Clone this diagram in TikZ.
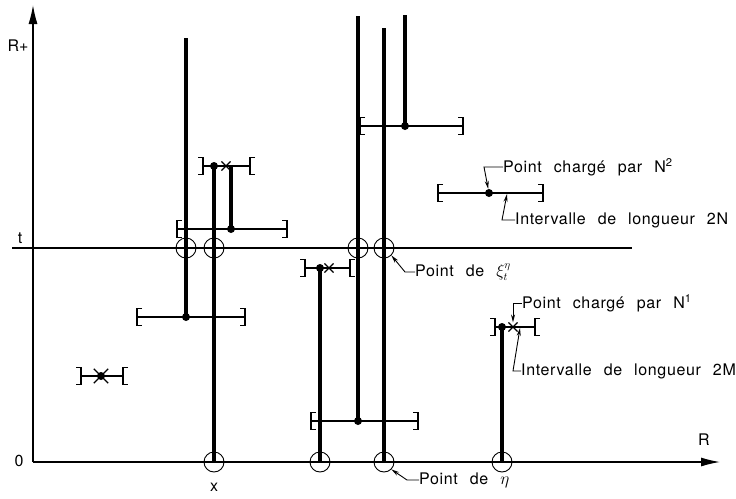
\documentclass[tikz,border=0pt]{standalone}
\usepackage{amsmath,amssymb}
\usepackage{fontspec}
\setmainfont{TeX Gyre Heros}
\newfontfamily\legende[LetterSpace=4]{TeX Gyre Heros}
\newcommand{\styleleg}{\legende\fontsize{16}{18}\selectfont\spaceskip=12pt\relax}
\usetikzlibrary{arrows.meta,shapes.misc}

\newcommand{\ferme}[3]{%
  \draw[fin] (#2+5,#1-8.5) -- (#2,#1-8.5) -- (#2,#1+8.5) -- (#2+5,#1+8.5)
    (#2,#1) -- (#3,#1)
    (#3-5,#1-8.5) -- (#3,#1-8.5) -- (#3,#1+8.5) -- (#3-5,#1+8.5);}
\newcommand{\ouvert}[3]{%
  \draw[fin] (#2-5,#1-8.5) -- (#2,#1-8.5) -- (#2,#1+8.5) -- (#2-5,#1+8.5)
    (#2,#1) -- (#3,#1)
    (#3+5,#1-8.5) -- (#3,#1-8.5) -- (#3,#1+8.5) -- (#3+5,#1+8.5);}

\begin{document}
\begin{tikzpicture}[x=1pt,y=-1pt,
    vie/.style={line width=3.8pt},
    fin/.style={line width=1.2pt},
    axe/.style={line width=1.3pt,-{Latex[length=19pt,width=9pt]}},
    renvoi/.style={line width=0.9pt,-{Stealth[length=8pt,width=4pt]}},
    rond/.style={circle,draw,line width=0.9pt,minimum size=20pt,inner sep=0pt},
    pt/.style={circle,fill,minimum size=8pt,inner sep=0pt},
    croix/.style={cross out,draw,line width=1.1pt,minimum size=8pt,inner sep=0pt},
    txt/.style={font=\styleleg,anchor=west,inner sep=0pt},
    lab/.style={font=\fontsize{16}{18}\selectfont,inner sep=0pt}]
  \useasboundingbox (0,0) rectangle (736,498);

  % axes
  \coordinate (O) at (33,462);
  \coordinate (Rp) at (33,5);
  \coordinate (Rd) at (720,462);
  \coordinate (t0) at (12,248);
  \coordinate (t1) at (632,248);
  \draw[axe] (O) -- (Rp);
  \draw[axe] (O) -- (Rd);
  \draw[fin] (t0) -- (t1);
  \node[lab] (lRp) at (18,46) {R+};
  \node[lab] (lt) at (20,238) {t};
  \node[lab] (lO) at (19,461) {0};
  \node[lab] (lR) at (704,440) {R};
  \node[lab] (lx) at (214,487) {x};

  % vies
  \coordinate (a0) at (186,38);   \coordinate (a1) at (186,317);
  \coordinate (b0) at (214,462);  \coordinate (b1) at (214,166);
  \coordinate (c0) at (231,166);  \coordinate (c1) at (231,229);
  \coordinate (d0) at (320,462);  \coordinate (d1) at (320,268);
  \coordinate (e0) at (358,16);   \coordinate (e1) at (358,421);
  \coordinate (f0) at (384,462);  \coordinate (f1) at (384,28);
  \coordinate (g0) at (405,15);   \coordinate (g1) at (405,126);
  \coordinate (h0) at (502,462);  \coordinate (h1) at (502,327);
  \foreach \v in {a,b,c,d,e,f,g,h}
    \draw[vie] (\v0) -- (\v1);

  % intervalles
  \ferme{317}{137}{245}
  \ferme{229}{177}{287}
  \ferme{421}{311}{418}
  \ferme{126}{360}{463}
  \ferme{193}{438}{543}
  \ouvert{166}{203}{250}
  \ouvert{268}{305}{350}
  \ouvert{327}{495}{535}
  \ouvert{376}{81}{123}

  % points
  \node[pt] (pa) at (a1) {};
  \node[pt] (pb) at (b1) {};
  \node[pt] (pc) at (c1) {};
  \node[pt] (pd) at (d1) {};
  \node[pt] (pe) at (e1) {};
  \node[pt] (pg) at (g1) {};
  \node[pt] (ph) at (h1) {};
  \node[pt] (pl) at (489,193) {};
  \node[pt] (ps) at (101,376) {};
  \node[croix] (xb) at (226,166) {};
  \node[croix] (xd) at (329,268) {};
  \node[croix] (xh) at (513,327) {};
  \node[croix,minimum size=13pt,line width=1.4pt] (xs) at (101,376) {};

  % cercles
  \node[rond] (ca) at (186,248) {};
  \node[rond] (cb) at (214,248) {};
  \node[rond] (ce) at (358,248) {};
  \node[rond] (cf) at (384,248) {};
  \node[rond] (cb0) at (b0) {};
  \node[rond] (cd0) at (d0) {};
  \node[rond] (cf0) at (f0) {};
  \node[rond] (ch0) at (h0) {};

  % legendes
  \coordinate (il) at (507,194);
  \coordinate (ih) at (520,328);
  \node[txt] (lN2) at (503,167) {Point charg\'e par N\textsuperscript{2}};
  \node[txt] (lI2) at (515,220) {Intervalle de longueur 2N};
  \node[txt] (lXi) at (415,272) {Point de $\xi^{\eta}_{t}$};
  \node[txt] (lN1) at (522,303) {Point charg\'e par N\textsuperscript{1}};
  \node[txt] (lI1) at (521,371) {Intervalle de longueur 2M};
  \node[txt] (lEta) at (419,480) {Point de $\eta$};
  \draw[renvoi] (lN2.west) -- ++(-19,0) -- (pl);
  \draw[renvoi] (lI2.west) -- ++(-13,0) -- (il);
  \draw[renvoi] (lXi.west) -- ++(-10,0) -- (cf.south east);
  \draw[renvoi] (lN1.west) -- ++(-9,0) -- (xh.north);
  \draw[renvoi] (lI1.west) -- ++(-8,0) -- (ih);
  \draw[renvoi] (lEta.west) -- ++(-12,0) -- (cf0.south east);
\end{tikzpicture}
\end{document}
